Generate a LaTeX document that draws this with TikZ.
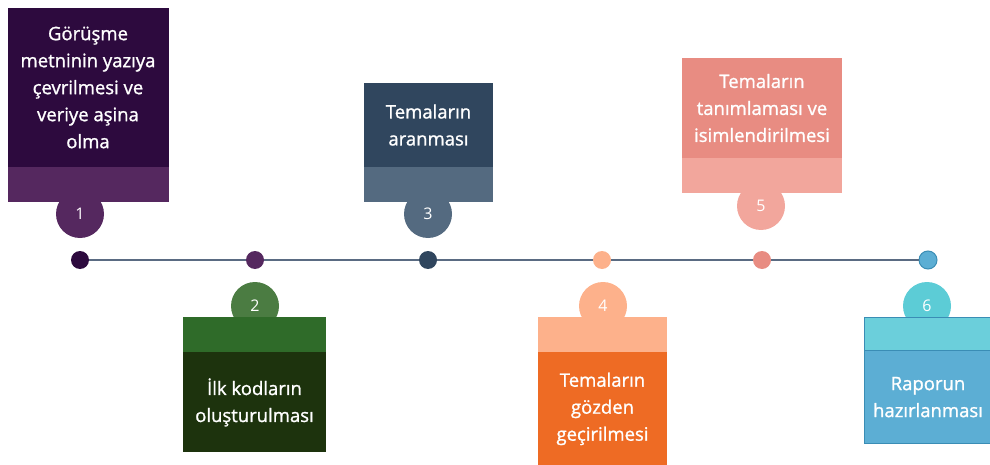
\documentclass[tikz,border=0pt]{standalone}
\usepackage{fontspec}
\setmainfont{Open Sans}
\newfontfamily\cardfont{Open Sans}[FakeBold=1.2]
\usetikzlibrary{positioning}

\definecolor{plumdark}{HTML}{2D0A3E}
\definecolor{plumband}{HTML}{55285F}
\definecolor{greendark}{HTML}{1D330D}
\definecolor{greenband}{HTML}{2F6B29}
\definecolor{greenbadge}{HTML}{4B7C42}
\definecolor{slatedark}{HTML}{30465E}
\definecolor{slateband}{HTML}{546A80}
\definecolor{orangedark}{HTML}{EE6B24}
\definecolor{orangeband}{HTML}{FDB18B}
\definecolor{salmondark}{HTML}{E88C82}
\definecolor{salmonband}{HTML}{F2A69C}
\definecolor{bluedark}{HTML}{5CAED4}
\definecolor{blueband}{HTML}{6BCFDB}
\definecolor{bluebadge}{HTML}{5CCCD6}
\definecolor{blueedge}{HTML}{3A8DB5}
\definecolor{timeline}{HTML}{5A6B82}

\tikzset{
  card/.style={rectangle, inner sep=0pt, text=white, align=center,
    font=\cardfont\fontsize{18.5}{27}\selectfont},
  band/.style={rectangle, inner sep=0pt},
  badge/.style={circle, minimum size=48pt, inner sep=0pt, text=white,
    font=\fontsize{16}{16}\selectfont},
  tick/.style={circle, minimum size=18pt, inner sep=0pt},
}

\begin{document}
\begin{tikzpicture}[x=1pt, y=-1pt, node distance=0pt]
  \useasboundingbox (0,0) rectangle (990,465);

  % badges sit behind the cards
  \node[badge, fill=plumband]   (b1) at (80,214)  {1};
  \node[badge, fill=greenbadge] (b2) at (255,306) {2};
  \node[badge, fill=slateband]  (b3) at (428,214) {3};
  \node[badge, fill=orangeband] (b4) at (603,306) {4};
  \node[badge, fill=salmonband] (b5) at (761,206) {5};
  \node[badge, fill=bluebadge]  (b6) at (927,306) {6};

  % cards above the line
  \node[card, fill=plumdark, minimum width=161pt, minimum height=159pt] (c1) at (88,87.5)
    {Görüşme\\metninin yazıya\\çevrilmesi ve\\veriye aşina\\olma};
  \node[band, fill=plumband, minimum width=161pt, minimum height=35pt, below=of c1] (s1) {};

  \node[card, fill=slatedark, minimum width=129pt, minimum height=84pt] (c3) at (428.5,125)
    {Temaların\\aranması};
  \node[band, fill=slateband, minimum width=129pt, minimum height=35pt, below=of c3] (s3) {};

  \node[card, fill=salmondark, minimum width=160pt, minimum height=100pt] (c5) at (762,108)
    {Temaların\\tanımlaması ve\\isimlendirilmesi};
  \node[band, fill=salmonband, minimum width=160pt, minimum height=35pt, below=of c5] (s5) {};

  % cards below the line
  \node[band, fill=greenband, minimum width=143pt, minimum height=35pt] (s2) at (254.5,334.5) {};
  \node[card, fill=greendark, minimum width=143pt, minimum height=100pt, below=of s2] (c2)
    {İlk kodların\\oluşturulması};

  \node[band, fill=orangeband, minimum width=129pt, minimum height=35pt] (s4) at (602.5,334.5) {};
  \node[card, fill=orangedark, minimum width=129pt, minimum height=113pt, below=of s4] (c4)
    {Temaların\\gözden\\geçirilmesi};

  \node[band, fill=blueband, draw=blueedge, line width=0.6pt,
    minimum width=128pt, minimum height=33pt] (s6) at (928,333.5) {};
  \node[card, fill=bluedark, draw=blueedge, line width=0.6pt,
    minimum width=128pt, minimum height=93pt, below=of s6] (c6)
    {Raporun\\hazırlanması};

  % timeline
  \node[tick, fill=plumdark]   (d1) at (80,260)  {};
  \node[tick, fill=plumband]   (d2) at (255,260) {};
  \node[tick, fill=slatedark]  (d3) at (428,260) {};
  \node[tick, fill=orangeband] (d4) at (602,260) {};
  \node[tick, fill=salmondark] (d5) at (762,260) {};
  \node[tick, fill=bluedark, draw=blueedge, line width=1pt] (d6) at (928,260) {};
  \draw[timeline, line width=1.8pt] (d1) -- (d2) -- (d3) -- (d4) -- (d5) -- (d6);
\end{tikzpicture}
\end{document}
